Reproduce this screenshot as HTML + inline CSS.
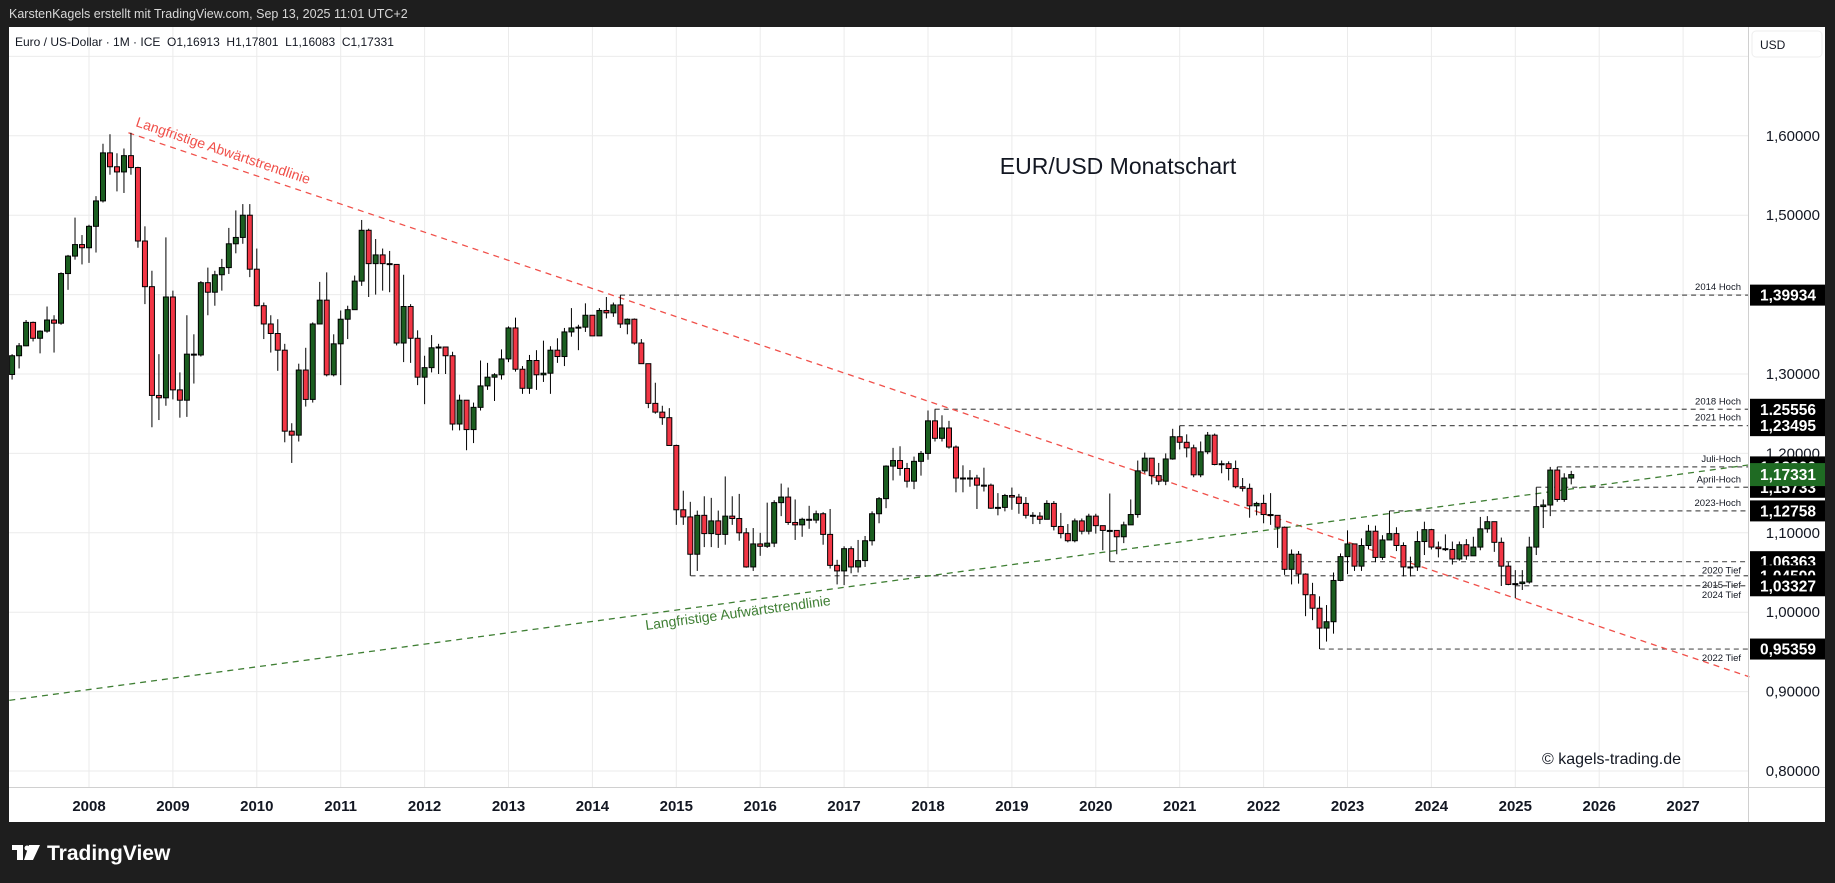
<!DOCTYPE html>
<html><head><meta charset="utf-8">
<style>
html,body{margin:0;padding:0;background:#1e1e1e;}
svg{display:block;font-family:"Liberation Sans",sans-serif;}
</style></head>
<body>
<svg id="chart" width="1835" height="883" viewBox="0 0 1835 883" xmlns="http://www.w3.org/2000/svg">
  <rect x="0" y="0" width="1835" height="883" fill="#1e1e1e"/>
  <text x="9" y="18" fill="#d8d8d8" font-size="12.5">KarstenKagels erstellt mit TradingView.com, Sep 13, 2025 11:01 UTC+2</text>
  <rect x="9" y="27" width="1816" height="795" fill="#ffffff"/>
  <g id="grid"></g>
  <g id="levels"></g>
  <g id="trends"></g>
  <g id="candles"></g>
  <line x1="1748.5" y1="27" x2="1748.5" y2="822" stroke="#d0d0d0"/>
  <line x1="9" y1="787.5" x2="1825" y2="787.5" stroke="#d0d0d0"/>
  <g id="yaxis"></g>
  <g id="xaxis"></g>
  <rect x="1752" y="31" width="70" height="26" rx="4" fill="#fff" stroke="#eee"/>
  <text x="1760" y="49" font-size="12" fill="#131722">USD</text>
  <text x="15" y="46" font-size="12" fill="#131722" xml:space="preserve">Euro / US-Dollar · 1M · ICE  O1,16913  H1,17801  L1,16083  C1,17331</text>
  <text x="1118" y="174" font-size="23" fill="#131722" text-anchor="middle">EUR/USD Monatschart</text>
  <text x="1681" y="764" font-size="16" fill="#131722" text-anchor="end">© kagels-trading.de</text>
  <g>
    <rect x="12" y="845" width="11" height="5" fill="#fff"/><rect x="17" y="845" width="6" height="15" fill="#fff"/>
    <polygon points="29,845 40,845 33,860 24,860" fill="#fff"/><circle cx="27" cy="848" r="2.5" fill="#fff"/>
    <text x="47" y="860" font-size="21" font-weight="bold" fill="#ffffff">TradingView</text>
  </g>
</svg>
<script>
const startYear = 2007, startMonth = 1;
const opens = [1.2994,1.3230,1.3355,1.3650,1.3450,1.3540,1.3680,1.3640,1.4265,1.4485,1.4630,
1.4590,1.4860,1.5180,1.5785,1.5610,1.5545,1.5750,1.5600,1.4675,1.4100,1.2730,1.2700,
1.3970,1.2800,1.2670,1.3250,1.3240,1.4150,1.4030,1.4250,1.4340,1.4640,1.4720,1.5000,
1.4320,1.3860,1.3630,1.3510,1.3300,1.2280,1.2230,1.3050,1.2680,1.3630,1.3930,1.2990,
1.3380,1.3690,1.3810,1.4170,1.4810,1.4390,1.4500,1.4390,1.4380,1.3390,1.3850,1.3450,
1.2960,1.3080,1.3330,1.3340,1.3230,1.2370,1.2670,1.2300,1.2580,1.2850,1.2960,1.2990,
1.3190,1.3580,1.3060,1.2820,1.3170,1.2990,1.3010,1.3300,1.3220,1.3530,1.3580,1.3590,
1.3740,1.3480,1.3800,1.3770,1.3870,1.3630,1.3690,1.3390,1.3130,1.2630,1.2520,1.2450,
1.2100,1.1290,1.1200,1.0730,1.1220,1.0990,1.1150,1.0980,1.1210,1.1180,1.1000,1.0570,
1.0860,1.0830,1.0870,1.1380,1.1450,1.1130,1.1100,1.1170,1.1160,1.1240,1.0980,1.0590,
1.0520,1.0800,1.0570,1.0650,1.0900,1.1240,1.1430,1.1840,1.1910,1.1810,1.1650,1.1900,
1.2000,1.2410,1.2190,1.2320,1.2080,1.1690,1.1680,1.1690,1.1600,1.1600,1.1310,1.1320,
1.1470,1.1450,1.1370,1.1220,1.1210,1.1170,1.1370,1.1080,1.0990,1.0900,1.1150,1.1020,
1.1210,1.1090,1.1030,1.1030,1.0950,1.1100,1.1230,1.1780,1.1940,1.1720,1.1650,1.1930,
1.2210,1.2140,1.2070,1.1730,1.2020,1.2230,1.1860,1.1870,1.1810,1.1580,1.1560,1.1340,
1.1370,1.1230,1.1220,1.1070,1.0540,1.0730,1.0480,1.0220,1.0050,0.9800,0.9880,1.0400,
1.0700,1.0860,1.0580,1.0840,1.1020,1.0690,1.0910,1.0990,1.0840,1.0570,1.0570,1.0890,
1.1040,1.0820,1.0800,1.0790,1.0670,1.0850,1.0710,1.0820,1.1050,1.1140,1.0880,1.0580,
1.0350,1.0360,1.0380,1.0820,1.1330,1.1350,1.1790,1.1420,1.1690];
const highs = [1.3250,1.3390,1.3680,1.3660,1.3550,1.3850,1.3740,1.4280,1.4500,1.4970,1.4750,
1.4880,1.5240,1.5900,1.6020,1.5780,1.5840,1.6038,1.5610,1.4860,1.4300,1.3250,1.4720,
1.4050,1.3020,1.3740,1.3500,1.4170,1.4340,1.4300,1.4450,1.4840,1.5060,1.5140,1.5140,
1.4580,1.3900,1.3740,1.3690,1.3380,1.2380,1.3130,1.3330,1.3650,1.4160,1.4280,1.3500,
1.3800,1.3860,1.4240,1.4940,1.4830,1.4700,1.4580,1.4550,1.4380,1.4250,1.3880,1.3550,
1.3230,1.3490,1.3380,1.3280,1.3280,1.2740,1.2400,1.2640,1.3170,1.3140,1.3010,1.3310,
1.3600,1.3710,1.3100,1.3240,1.3300,1.3420,1.3350,1.3450,1.3580,1.3830,1.3620,1.3890,
1.3740,1.3830,1.3970,1.3900,1.3993,1.3700,1.3700,1.3440,1.3120,1.2890,1.2600,1.2570,
1.2110,1.1530,1.1390,1.1280,1.1460,1.1440,1.1280,1.1710,1.1460,1.1490,1.1060,1.1060,
1.1000,1.1380,1.1410,1.1620,1.1570,1.1420,1.1190,1.1340,1.1280,1.1260,1.1300,1.0660,
1.0830,1.0830,1.0910,1.0960,1.1270,1.1450,1.1850,1.2070,1.2090,1.1880,1.1960,1.2030,
1.2540,1.2556,1.2480,1.2410,1.2100,1.1850,1.1790,1.1730,1.1820,1.1620,1.1500,1.1490,
1.1570,1.1490,1.1450,1.1260,1.1260,1.1410,1.1400,1.1250,1.1110,1.1180,1.1180,1.1240,
1.1240,1.1050,1.1495,1.1020,1.1140,1.1420,1.1910,1.2010,1.1920,1.1880,1.2000,1.2310,
1.2349,1.2240,1.2110,1.2150,1.2270,1.2250,1.1910,1.1900,1.1910,1.1690,1.1620,1.1390,
1.1480,1.1500,1.1180,1.1080,1.0790,1.0770,1.0490,1.0370,1.0200,1.0090,1.0500,1.0740,
1.1030,1.0810,1.0930,1.1100,1.1090,1.0970,1.1276,1.1070,1.0880,1.0700,1.1020,1.1140,
1.1050,1.0890,1.0980,1.0890,1.0890,1.0920,1.0950,1.1200,1.1210,1.1140,1.0940,1.0630,
1.0530,1.0530,1.0950,1.1573,1.1420,1.1830,1.1830,1.1750,1.1780];
const lows = [1.2930,1.3070,1.3350,1.3410,1.3260,1.3520,1.3270,1.3620,1.4060,1.4440,1.4380,
1.4400,1.4530,1.5160,1.5510,1.5300,1.5280,1.5510,1.4590,1.3880,1.2330,1.2420,1.2600,
1.2680,1.2450,1.2460,1.2880,1.3220,1.3740,1.3860,1.4050,1.4260,1.4520,1.4640,1.4220,
1.3850,1.3440,1.3270,1.3040,1.2140,1.1880,1.2150,1.2590,1.2640,1.3700,1.2970,1.2970,
1.2860,1.3440,1.3860,1.4110,1.3970,1.4000,1.4050,1.4030,1.3360,1.3150,1.3140,1.2860,
1.2620,1.3020,1.3000,1.3000,1.2290,1.2290,1.2040,1.2130,1.2540,1.2800,1.2660,1.2930,
1.3150,1.3030,1.2750,1.2750,1.2800,1.2900,1.2750,1.3140,1.3100,1.3470,1.3300,1.3530,
1.3480,1.3480,1.3700,1.3720,1.3580,1.3500,1.3370,1.3130,1.2570,1.2500,1.2360,1.2100,
1.1100,1.1100,1.0459,1.0520,1.0820,1.0820,1.0810,1.0850,1.1100,1.0900,1.0560,1.0520,
1.0710,1.0810,1.0820,1.1210,1.1100,1.0910,1.0950,1.1050,1.1120,1.0850,1.0550,1.0350,
1.0341,1.0490,1.0500,1.0570,1.0840,1.1120,1.1310,1.1660,1.1720,1.1570,1.1550,1.1720,
1.1920,1.2150,1.2150,1.2060,1.1510,1.1510,1.1580,1.1300,1.1520,1.1300,1.1220,1.1270,
1.1290,1.1240,1.1180,1.1110,1.1110,1.1180,1.1030,1.0930,1.0880,1.0880,1.0980,1.0980,
1.0990,1.0780,1.0636,1.0730,1.0870,1.1170,1.1190,1.1750,1.1610,1.1600,1.1600,1.1920,
1.2050,1.1950,1.1700,1.1700,1.1990,1.1850,1.1750,1.1660,1.1560,1.1520,1.1190,1.1220,
1.1120,1.1100,1.0810,1.0470,1.0350,1.0360,0.9950,0.9900,0.9536,0.9630,0.9730,1.0390,
1.0480,1.0520,1.0520,1.0790,1.0630,1.0660,1.0910,1.0770,1.0450,1.0450,1.0520,1.0720,
1.0790,1.0690,1.0770,1.0600,1.0650,1.0660,1.0710,1.0780,1.1000,1.0760,1.0330,1.0340,
1.0178,1.0280,1.0360,1.0720,1.1060,1.1210,1.1390,1.1390,1.1610];
const closes = [1.3230,1.3355,1.3650,1.3450,1.3540,1.3680,1.3640,1.4265,1.4485,1.4630,1.4590,
1.4860,1.5180,1.5785,1.5610,1.5545,1.5750,1.5600,1.4675,1.4100,1.2730,1.2700,1.3970,
1.2800,1.2670,1.3250,1.3240,1.4150,1.4030,1.4250,1.4340,1.4640,1.4720,1.5000,1.4320,
1.3860,1.3630,1.3510,1.3300,1.2280,1.2230,1.3050,1.2680,1.3630,1.3930,1.2990,1.3380,
1.3690,1.3810,1.4170,1.4810,1.4390,1.4500,1.4390,1.4380,1.3390,1.3850,1.3450,1.2960,
1.3080,1.3330,1.3340,1.3230,1.2370,1.2670,1.2300,1.2580,1.2850,1.2960,1.2990,1.3190,
1.3580,1.3060,1.2820,1.3170,1.2990,1.3010,1.3300,1.3220,1.3530,1.3580,1.3590,1.3740,
1.3480,1.3800,1.3770,1.3870,1.3630,1.3690,1.3390,1.3130,1.2630,1.2520,1.2450,1.2100,
1.1290,1.1200,1.0730,1.1220,1.0990,1.1150,1.0980,1.1210,1.1180,1.1000,1.0570,1.0860,
1.0830,1.0870,1.1380,1.1450,1.1130,1.1100,1.1170,1.1160,1.1240,1.0980,1.0590,1.0520,
1.0800,1.0570,1.0650,1.0900,1.1240,1.1430,1.1840,1.1910,1.1810,1.1650,1.1900,1.2000,
1.2410,1.2190,1.2320,1.2080,1.1690,1.1680,1.1690,1.1600,1.1600,1.1310,1.1320,1.1470,
1.1450,1.1370,1.1220,1.1210,1.1170,1.1370,1.1080,1.0990,1.0900,1.1150,1.1020,1.1210,
1.1090,1.1030,1.1030,1.0950,1.1100,1.1230,1.1780,1.1940,1.1720,1.1650,1.1930,1.2210,
1.2140,1.2070,1.1730,1.2020,1.2230,1.1860,1.1870,1.1810,1.1580,1.1560,1.1340,1.1370,
1.1230,1.1220,1.1070,1.0540,1.0730,1.0480,1.0220,1.0050,0.9800,0.9880,1.0400,1.0700,
1.0860,1.0580,1.0840,1.1020,1.0690,1.0910,1.0990,1.0840,1.0570,1.0570,1.0890,1.1040,
1.0820,1.0800,1.0790,1.0670,1.0850,1.0710,1.0820,1.1050,1.1140,1.0880,1.0580,1.0350,
1.0360,1.0380,1.0820,1.1330,1.1350,1.1790,1.1420,1.1690,1.1733];
const yearTicks = [2008,2009,2010,2011,2012,2013,2014,2015,2016,2017,2018,2019,2020,2021,2022,2023,2024,2025,2026,2027];
const priceTicks = [0.8,0.9,1.0,1.1,1.2,1.3,1.4,1.5,1.6];
const priceTickLabels = ["0,80000","0,90000","1,00000","1,10000","1,20000","1,30000","1,40000","1,50000","1,60000"];
const levelPrices = [1.39934,1.25556,1.23495,1.18300,1.15733,1.12758,1.06363,1.04590,1.03327,0.95359];
const levelStarts = [2014.33,2018.08,2021.0,2025.5,2025.25,2023.5,2020.17,2015.17,2025.0,2022.67];
const levelNames = ["2014 Hoch","2018 Hoch","2021 Hoch","Juli-Hoch","April-Hoch","2023-Hoch","2020 Tief","2015 Tief","2024 Tief","2022 Tief"];
const levelTexts = ["1,39934","1,25556","1,23495","1,18300","1,15733","1,12758","1,06363","1,04590","1,03327","0,95359"];
const levelBelow = [false,false,false,false,false,false,true,true,true,true];
const lastPrice = 1.17331, lastPriceText = "1,17331";
const downTrend = [[2008.47,1.6038],[2027.79,0.9186]];
const upTrend = [[2007.05,0.889],[2027.79,1.1856]];

const NS="http://www.w3.org/2000/svg";
const X = t => 89 + (t-2008)*83.9;
const Y = p => 135.8 + (1.6-p)*794;
function mk(tag, attrs, parent){const e=document.createElementNS(NS,tag);for(const k in attrs)e.setAttribute(k,attrs[k]);document.getElementById(parent).appendChild(e);return e;}

yearTicks.forEach(yr=>{
  const g=mk('line',{x1:X(yr),x2:X(yr),y1:27,y2:787,stroke:'#ebebeb'},'grid');
  
  
  const t=mk('text',{x:X(yr),y:811,'font-size':15,'font-weight':'bold','text-anchor':'middle',fill:'#131722'},'xaxis');
  t.textContent=yr;
  
  
});
[1.7].concat(priceTicks).forEach(p=>{
  const g=mk('line',{x1:9,x2:1748,y1:Y(p),y2:Y(p),stroke:'#ebebeb'},'grid');
  
  
});
priceTicks.forEach((p,i)=>{
  const t=mk('text',{x:1820,y:Y(p)+5,'font-size':15,'text-anchor':'end',fill:'#131722'},'yaxis');
  t.textContent=priceTickLabels[i];
  
  
});
levelPrices.forEach((p,i)=>{
  const l=mk('line',{x1:X(levelStarts[i]),x2:1748,y1:Y(p),y2:Y(p),stroke:'#555','stroke-dasharray':'5,4','stroke-width':1.2},'levels');
  
  
  const t=mk('text',{x:1741,y:levelBelow[i]?Y(p)+12:Y(p)-5,'font-size':9.5,'text-anchor':'end',fill:'#131722'},'levels');
  t.textContent=levelNames[i];
  
  
  const r=mk('rect',{x:1750,y:Y(p)-10.5,width:75,height:21,fill:'#000'},'yaxis');
  
  
  const v=mk('text',{x:1816,y:Y(p)+5.5,'font-size':15.5,'font-weight':'bold','text-anchor':'end',fill:'#fff'},'yaxis');
  v.textContent=levelTexts[i];
  
  
});
{
  const r=mk('rect',{x:1750,y:Y(lastPrice)-11.5,width:75,height:23,fill:'#1f6b23'},'yaxis');
  
  
  const v=mk('text',{x:1816,y:Y(lastPrice)+5.5,'font-size':15.5,'font-weight':'bold','text-anchor':'end',fill:'#fff'},'yaxis');
  v.textContent=lastPriceText;
  
  
}
function trend(pts,color,name,label,lx,ly,fs){
  const x1=X(pts[0][0]),y1=Y(pts[0][1]),x2=X(pts[1][0]),y2=Y(pts[1][1]);
  const l=mk('line',{x1:x1,y1:y1,x2:x2,y2:y2,stroke:color,'stroke-dasharray':'6,5','stroke-width':1.3},'trends');
  
  
  const ang=Math.atan2(y2-y1,x2-x1)*180/Math.PI;
  const t=mk('text',{x:lx,y:ly,'font-size':fs,fill:color,transform:`rotate(${ang} ${lx} ${ly})`},'trends');
  t.textContent=label;
  
  
}
trend(downTrend,'#f0504a','downtrend-line','Langfristige Abwärtstrendlinie',135,126,14);
trend(upTrend,'#3f7f34','uptrend-line','Langfristige Aufwärtstrendlinie',646,630,14);

closes.forEach((c,i)=>{
  const t=startYear+(startMonth+i)/12;
  const x=X(t), o=opens[i], up=c>=o;
  const w=mk('line',{x1:x,x2:x,y1:Y(highs[i]),y2:Y(lows[i]),stroke:'#000','stroke-width':1},'candles');
  
  
  const top=Y(Math.max(o,c)), bot=Y(Math.min(o,c));
  const b=mk('rect',{x:x-2.5,y:top,width:5,height:Math.max(1,bot-top),fill:up?'#1b5e20':'#f23645',stroke:'#000','stroke-width':1},'candles');
  
  
});
</script>
</body></html>
